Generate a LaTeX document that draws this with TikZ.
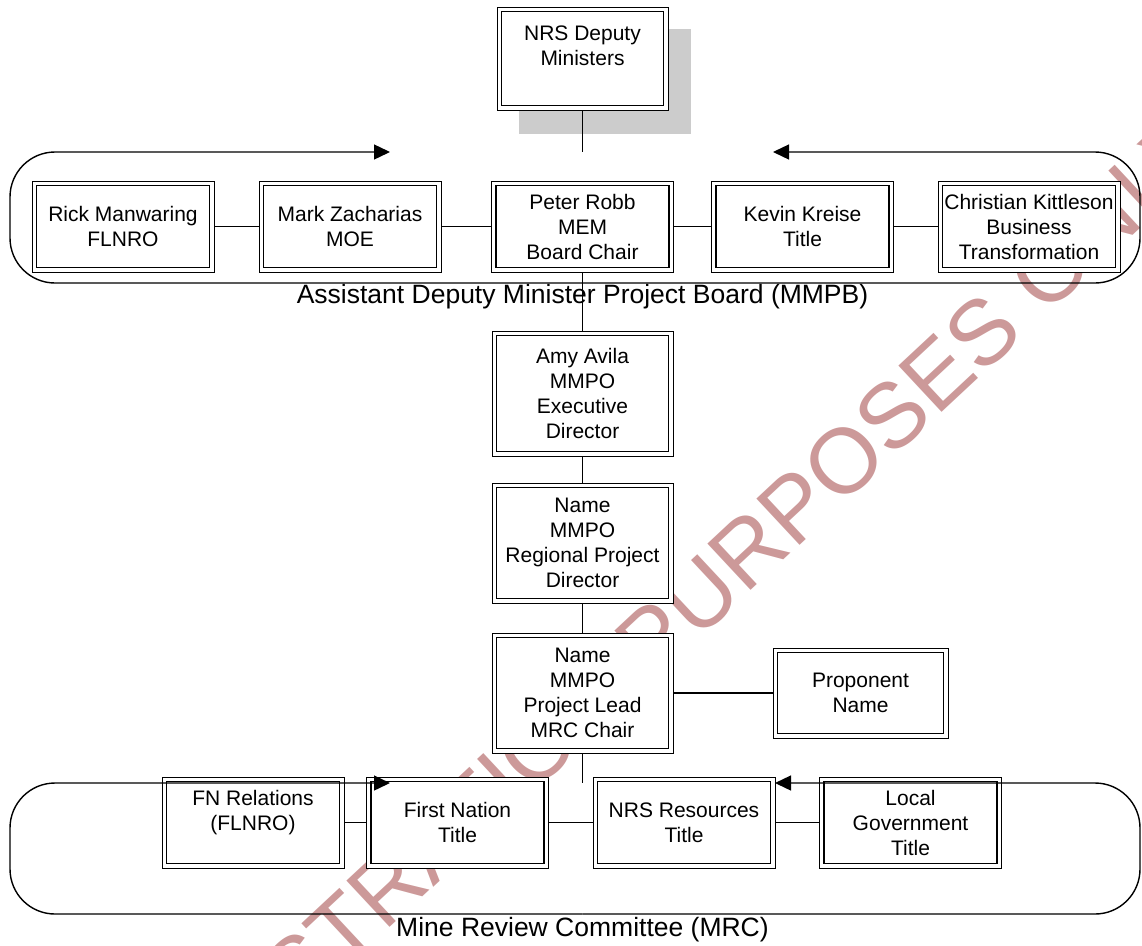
\documentclass[tikz,border=0pt]{standalone}
\usepackage{fontspec}
\setmainfont{Liberation Sans}
\usetikzlibrary{arrows.meta}
\definecolor{wmpink}{RGB}{204,153,153}
\definecolor{shadowgray}{RGB}{204,204,204}
\tikzset{
  box/.style={draw=black, line width=0.9pt, fill=white, inner sep=0pt, align=center,
    font=\fontsize{21}{25}\selectfont, minimum width=182pt, minimum height=91pt,
    path picture={\draw[line width=1.8pt]
      ([shift={(4.5pt,4.5pt)}]path picture bounding box.south west) rectangle
      ([shift={(-4.5pt,-4.5pt)}]path picture bounding box.north east);}},
  tallbox/.style={box, minimum width=181pt, minimum height=120pt},
  conn/.style={line width=1.2pt},
  loopline/.style={line width=1.4pt, rounded corners=45pt, -{Triangle[length=16pt,width=15pt]}},
  grouplabel/.style={font=\fontsize{26.5}{30}\selectfont, inner sep=0pt},
  watermark/.style={text=wmpink, font=\fontsize{92}{100}\selectfont, inner sep=0pt}
}
\begin{document}
\begin{tikzpicture}[x=1pt,y=-1pt]
\useasboundingbox (0,0) rectangle (1142,945);
% watermark
\node[watermark, rotate=43, anchor=base] (wm) at (690,648) {ILLUSTRATION PURPOSES ONLY};
% shadow
\fill[shadowgray] (519,29) rectangle (691,134);
% coordinates on the group outlines
\coordinate (mmpbT) at (582.5,152);
\coordinate (mmpbB) at (582.5,283);
\coordinate (mrcT) at (582.5,783);
\coordinate (mrcB) at (582.5,914);
% top
\node[box, minimum width=171pt, minimum height=103pt] (nrs) at (582.5,58.5) {NRS Deputy\\Ministers\\\mbox{}};
% board row
\node[box] (rick) at (123,226.5) {Rick Manwaring\\FLNRO};
\node[box] (mark) at (350,226.5) {Mark Zacharias\\MOE};
\node[box] (peter) at (582.5,226.5) {Peter Robb\\MEM\\Board Chair};
\node[box] (kevin) at (802.5,226.5) {Kevin Kreise\\Title};
\node[box] (christian) at (1029,226.5) {Christian Kittleson\\Business\\Transformation};
\node[grouplabel] (mmpbL) at (582.5,297) {Assistant Deputy Minister Project Board (MMPB)};
% centre column
\node[tallbox, minimum height=125pt] (amy) at (582.5,393.5) {Amy Avila\\MMPO\\Executive\\Director};
\node[tallbox] (regional) at (582.5,543) {Name\\MMPO\\Regional Project\\Director};
\node[tallbox] (lead) at (582.5,693) {Name\\MMPO\\Project Lead\\MRC Chair};
\node[box, minimum width=175pt, minimum height=90pt] (proponent) at (860.5,693) {Proponent\\Name};
% MRC row
\node[box] (fn) at (253,822.5) {FN Relations\\(FLNRO)\\\mbox{}};
\node[box] (first) at (457.5,822.5) {First Nation\\Title};
\node[box] (nrsres) at (684,822.5) {NRS Resources\\Title};
\node[box] (local) at (910.5,822.5) {Local\\Government\\Title};
\node[grouplabel] (mrcL) at (582.5,930) {Mine Review Committee (MRC)};
% connectors
\draw[conn] (nrs) -- (mmpbT);
\draw[conn] (rick) -- (mark);
\draw[conn] (mark) -- (peter);
\draw[conn] (peter) -- (kevin);
\draw[conn] (kevin) -- (christian);
\draw[conn] (peter) -- (amy);
\draw[conn] (amy) -- (regional);
\draw[conn] (regional) -- (lead);
\draw[conn] (lead) -- (proponent);
\draw[conn] (lead) -- (mrcT);
\draw[conn] (fn) -- (first);
\draw[conn] (first) -- (nrsres);
\draw[conn] (nrsres) -- (local);
% group outlines
\draw[loopline] (mmpbB) -- (10,283) -- (10,152) -- (390,152);
\draw[loopline] (mmpbB) -- (1140,283) -- (1140,152) -- (773,152);
\draw[loopline] (mrcB) -- (10,914) -- (10,783) -- (390,783);
\draw[loopline] (mrcB) -- (1140,914) -- (1140,783) -- (775,783);
\end{tikzpicture}
\end{document}
